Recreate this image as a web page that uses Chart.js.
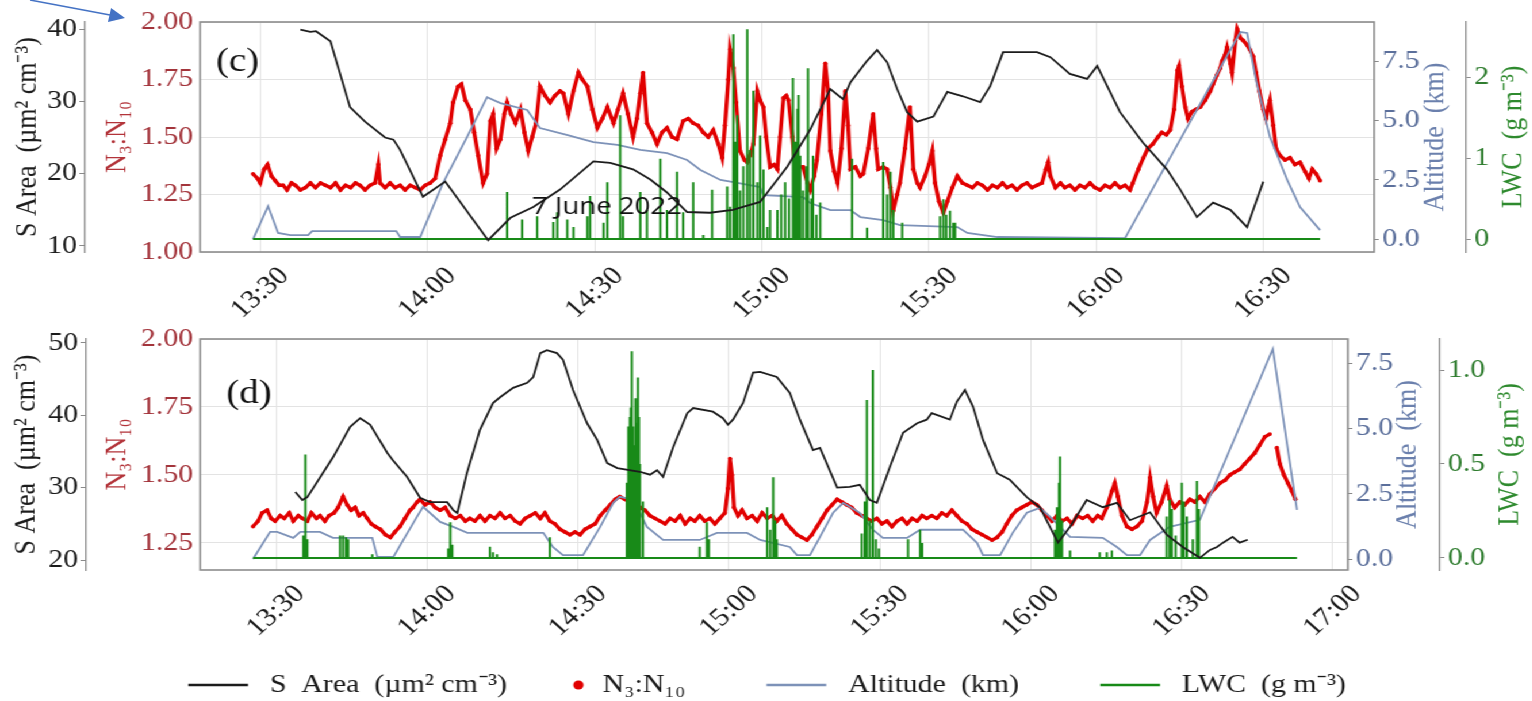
<!DOCTYPE html>
<html><head><meta charset="utf-8">
<script src="https://cdn.jsdelivr.net/npm/chart.js@4.4.1/dist/chart.umd.min.js"></script>
<style>
html,body{margin:0;padding:0;background:#fff;overflow:hidden;width:1532px;height:701px;}
#fig{position:absolute;left:0;top:0;width:1332px;height:708px;transform:scaleX(1.15);transform-origin:0 0;}
#cC{position:absolute;left:0;top:0;}
#cD{position:absolute;left:0;top:315px;}
#arrow{position:absolute;left:0;top:0;}
</style></head><body>
<div id="fig"><canvas id="cC" width="1332" height="330"></canvas><canvas id="cD" width="1332" height="393"></canvas></div>
<svg id="arrow" width="140" height="30"><line x1="30" y1="0" x2="110" y2="15" stroke="#4472c4" stroke-width="1.5"/><polygon points="125,18 108,22 111,8" fill="#4472c4"/></svg>
<script>
// ---------- DATA (time = minutes after midnight) ----------
const xTicksC = [810, 840, 870, 900, 930, 960, 990];
const xTicksD = [810, 840, 870, 900, 930, 960, 990, 1020];

const sAreaC = [[817.2,39.9],[819.0,39.6],[820.0,39.7],[822.6,38.3],[826.1,29.2],[828.8,27.2],[832.4,25.0],[833.9,24.7],[835.1,23.3],[839.2,16.8],[843.2,18.9],[850.9,10.8],[854.9,13.9],[859.0,15.4],[863.8,17.8],[869.8,21.7],[872.8,21.5],[876.9,20.6],[880.0,19.2],[883.0,17.4],[886.6,14.7],[890.7,14.6],[894.8,15.0],[899.7,16.1],[904.6,21.0],[908.7,26.1],[912.3,31.7],[914.6,30.3],[915.9,32.6],[918.9,35.6],[920.7,37.1],[922.5,35.4],[924.3,31.7],[926.1,28.5],[927.9,27.2],[930.8,27.9],[933.3,31.3],[936.1,30.7],[939.2,29.9],[941.0,32.1],[943.3,36.8],[949.4,36.8],[951.8,36.1],[955.3,33.8],[958.4,33.1],[960.2,34.9],[964.3,28.5],[968.4,24.3],[972.7,20.6],[975.1,17.8],[978.1,14.0],[981.0,16.0],[984.1,15.0],[987.1,12.6],[990.0,18.9]];

const n3C = [[808.7,1.34],[809.5,1.32],[810.0,1.30],[810.7,1.36],[811.3,1.38],[812.0,1.33],[812.7,1.31],[813.4,1.29],[814.1,1.29],[814.8,1.27],[815.6,1.30],[816.3,1.29],[817.2,1.27],[818.1,1.28],[819.0,1.30],[819.9,1.28],[820.8,1.30],[821.7,1.29],[822.6,1.28],[823.5,1.30],[824.4,1.27],[825.3,1.29],[826.2,1.28],[827.1,1.30],[827.9,1.29],[828.8,1.27],[829.7,1.29],[830.6,1.30],[831.2,1.38],[831.5,1.30],[832.4,1.28],[833.3,1.30],[834.2,1.28],[835.1,1.29],[836.0,1.27],[836.9,1.29],[837.8,1.28],[838.7,1.27],[839.6,1.29],[840.5,1.30],[841.4,1.32],[842.3,1.42],[843.2,1.49],[844.1,1.56],[844.6,1.65],[845.5,1.72],[846.1,1.73],[846.8,1.66],[847.7,1.62],[848.4,1.52],[849.1,1.42],[850.0,1.30],[850.7,1.34],[851.3,1.57],[851.8,1.60],[852.4,1.45],[853.1,1.49],[853.8,1.60],[854.3,1.65],[855.0,1.60],[855.8,1.56],[856.7,1.62],[857.4,1.52],[858.1,1.44],[858.8,1.50],[859.5,1.56],[860.2,1.72],[861.1,1.68],[862.0,1.65],[862.9,1.68],[863.8,1.70],[864.4,1.69],[865.3,1.60],[866.2,1.70],[867.1,1.78],[867.8,1.75],[868.7,1.72],[869.6,1.62],[870.5,1.54],[871.4,1.58],[872.3,1.63],[873.4,1.56],[874.2,1.62],[875.1,1.69],[876.0,1.60],[876.9,1.50],[877.6,1.58],[878.2,1.69],[878.7,1.78],[879.4,1.56],[880.3,1.52],[881.2,1.47],[882.1,1.52],[883.0,1.54],[883.9,1.50],[884.8,1.49],[885.9,1.57],[886.8,1.58],[887.7,1.56],[888.6,1.55],[889.5,1.52],[890.4,1.50],[891.3,1.53],[892.2,1.47],[892.9,1.41],[893.4,1.55],[894.0,1.75],[894.3,1.88],[894.9,1.80],[895.4,1.65],[896.1,1.44],[896.9,1.40],[897.4,1.39],[897.9,1.42],[898.5,1.47],[899.2,1.70],[899.7,1.66],[900.3,1.63],[900.8,1.50],[901.5,1.37],[902.2,1.38],[902.8,1.36],[903.3,1.50],[903.9,1.67],[904.4,1.68],[904.8,1.66],[905.5,1.50],[906.0,1.36],[906.7,1.37],[907.4,1.37],[908.2,1.30],[908.7,1.27],[909.4,1.33],[909.9,1.40],[910.7,1.60],[911.4,1.82],[911.9,1.70],[912.3,1.44],[913.0,1.35],[913.6,1.30],[914.3,1.45],[915.0,1.70],[915.5,1.55],[915.9,1.36],[916.8,1.37],[917.7,1.33],[918.2,1.34],[919.1,1.45],[920.0,1.60],[920.5,1.45],[920.9,1.36],[921.8,1.37],[922.5,1.36],[923.1,1.28],[923.6,1.18],[924.3,1.25],[924.8,1.30],[925.7,1.45],[926.6,1.63],[927.2,1.36],[927.9,1.30],[928.4,1.28],[929.3,1.33],[930.0,1.38],[930.6,1.44],[931.1,1.30],[931.8,1.22],[932.6,1.17],[933.3,1.22],[934.2,1.28],[935.1,1.33],[936.0,1.30],[936.9,1.29],[937.8,1.28],[938.7,1.30],[939.6,1.29],[940.5,1.27],[941.4,1.29],[942.3,1.28],[943.2,1.30],[944.0,1.28],[944.9,1.29],[945.8,1.27],[946.7,1.29],[947.6,1.30],[948.5,1.28],[949.4,1.29],[950.3,1.30],[951.0,1.36],[951.4,1.39],[951.8,1.33],[952.7,1.28],[953.6,1.30],[954.4,1.28],[955.3,1.29],[956.2,1.27],[957.1,1.29],[958.0,1.28],[958.9,1.30],[959.8,1.28],[960.7,1.27],[961.6,1.29],[962.5,1.28],[963.4,1.30],[964.3,1.28],[965.2,1.29],[966.1,1.27],[966.6,1.30],[967.6,1.36],[968.5,1.41],[969.3,1.45],[970.2,1.47],[971.1,1.50],[971.8,1.52],[972.6,1.51],[973.3,1.53],[974.0,1.62],[974.6,1.79],[974.9,1.81],[975.4,1.72],[976.0,1.63],[976.5,1.58],[977.2,1.61],[977.9,1.62],[978.7,1.63],[979.6,1.66],[980.5,1.70],[981.0,1.73],[981.7,1.77],[982.3,1.80],[982.6,1.83],[983.2,1.86],[983.5,1.89],[984.1,1.82],[984.4,1.78],[985.0,1.92],[985.3,1.97],[985.9,1.93],[986.4,1.92],[987.1,1.90],[987.6,1.88],[988.2,1.85],[988.7,1.78],[989.3,1.70],[990.0,1.62],[990.5,1.58],[990.9,1.63],[991.2,1.66],[991.8,1.55],[992.3,1.45],[993.0,1.42],[993.9,1.40],[994.8,1.41],[995.7,1.38],[996.6,1.39],[997.5,1.35],[998.2,1.32],[998.8,1.36],[999.5,1.34],[1000.2,1.31]];

const altC = [[808.7,0.0],[811.4,1.40],[813.2,0.27],[815.4,0.18],[818.6,0.18],[819.3,0.35],[834.4,0.35],[835.1,0.10],[838.7,0.10],[842.8,2.37],[847.1,4.30],[850.7,5.98],[853.1,5.73],[857.9,5.44],[860.2,4.68],[865.0,4.39],[869.8,4.09],[874.1,3.97],[878.2,3.76],[883.0,3.63],[886.6,3.34],[889.0,2.92],[892.6,2.50],[894.9,2.41],[899.7,2.20],[900.3,1.86],[907.4,1.78],[908.7,1.53],[912.3,1.23],[915.9,1.23],[917.7,0.94],[921.8,0.81],[924.8,0.60],[935.1,0.52],[936.9,0.27],[942.3,0.10],[965.2,0.05],[985.9,8.72],[987.1,8.68],[988.7,6.70],[991.2,4.30],[994.3,2.50],[996.6,1.36],[1000.2,0.39]];

const lwcSpanC = [808.7, 1000.2];
const lwcC = [[854.3,0.58],[857.0,0.24],[859.7,0.28],[862.6,0.21],[863.3,0.33],[865.1,0.24],[866.2,0.15],[868.7,0.28],[869.2,0.53],[871.6,0.20],[872.3,0.70],[874.6,1.53],[875.1,0.28],[878.2,0.58],[879.4,0.36],[881.8,0.99],[883.0,0.36],[884.8,0.83],[885.9,0.33],[887.7,0.70],[889.5,0.05],[891.1,0.61],[893.8,0.65],[894.3,0.40],[894.9,2.53],[895.2,1.20],[895.6,1.53],[896.1,0.60],[896.7,0.90],[897.4,2.59],[897.9,1.10],[898.5,1.83],[899.2,0.70],[899.7,1.28],[900.3,0.86],[901.0,0.15],[901.5,0.36],[902.8,0.36],[903.5,0.55],[904.2,0.70],[904.9,0.50],[905.6,1.99],[906.0,1.20],[906.4,1.61],[906.6,1.78],[906.9,1.03],[907.4,0.60],[908.0,0.90],[908.3,2.11],[908.9,0.50],[909.2,1.03],[909.8,0.30],[910.5,0.45],[916.2,0.99],[918.9,0.14],[921.8,0.95],[922.5,0.55],[923.1,0.83],[923.6,0.36],[925.2,0.20],[932.0,0.28],[932.6,0.49],[933.1,0.30],[933.8,0.35],[934.4,0.20],[934.7,0.20]];

const sAreaD = [[813.8,29.4],[815.2,28.3],[816.2,28.7],[821.3,34.2],[824.7,38.4],[826.7,39.6],[828.7,38.7],[832.1,34.8],[833.2,33.8],[836.0,31.5],[838.6,28.6],[840.6,28.0],[844.0,28.0],[845.2,26.9],[846.0,26.5],[847.9,32.0],[850.5,38.0],[853.1,41.7],[854.5,42.5],[857.1,43.8],[859.9,44.5],[861.1,45.3],[862.5,48.6],[863.8,49.0],[865.8,48.6],[867.0,47.7],[869.0,43.5],[871.8,38.9],[873.8,36.6],[875.8,33.4],[877.8,32.7],[882.3,32.2],[884.3,31.8],[885.7,32.4],[886.9,31.5],[888.9,35.6],[891.7,40.3],[892.9,41.0],[896.8,40.5],[898.8,39.6],[899.8,38.7],[900.8,39.4],[902.8,41.7],[904.8,45.9],[906.2,46.0],[909.5,45.3],[912.1,43.1],[914.1,39.4],[916.7,35.2],[918.1,35.5],[921.5,30.0],[924.0,30.1],[926.0,30.4],[928.0,28.3],[929.4,27.9],[932.0,32.9],[934.6,37.6],[937.4,38.9],[939.3,39.4],[940.3,40.3],[943.9,39.4],[945.3,41.9],[946.9,43.5],[948.5,41.2],[950.5,36.6],[953.3,32.0],[955.8,31.1],[959.2,28.7],[961.8,27.3],[965.4,22.4],[967.8,24.6],[971.1,28.3],[974.3,27.3],[977.1,27.9],[979.7,25.5],[983.7,26.6],[987.0,23.5],[990.2,21.8],[993.6,20.3],[995.6,21.4],[997.0,21.8],[998.2,22.4],[1000.1,23.2],[1001.5,22.4],[1003.1,22.8]];

const n3D = [[805.4,1.31],[806.4,1.33],[807.2,1.36],[808.2,1.37],[809.0,1.34],[809.8,1.33],[810.8,1.35],[811.6,1.34],[812.6,1.36],[813.4,1.33],[814.4,1.35],[815.2,1.34],[816.2,1.33],[817.0,1.36],[818.0,1.34],[818.7,1.35],[819.7,1.33],[820.5,1.35],[821.5,1.36],[822.3,1.38],[823.3,1.42],[824.1,1.39],[824.9,1.37],[825.7,1.38],[826.5,1.35],[827.3,1.36],[828.1,1.34],[828.9,1.32],[829.7,1.31],[830.7,1.30],[831.7,1.28],[832.7,1.27],[833.6,1.29],[834.6,1.31],[835.6,1.34],[836.6,1.37],[837.2,1.38],[838.0,1.40],[838.6,1.41],[839.6,1.39],[840.6,1.40],[841.6,1.38],[842.6,1.37],[843.6,1.38],[844.6,1.35],[845.6,1.34],[846.6,1.35],[847.6,1.33],[848.5,1.34],[849.5,1.33],[850.5,1.35],[851.5,1.33],[852.5,1.35],[853.5,1.34],[854.5,1.36],[855.5,1.34],[856.5,1.35],[857.5,1.33],[858.5,1.32],[859.5,1.34],[860.5,1.35],[861.5,1.36],[862.5,1.34],[863.4,1.36],[864.4,1.33],[865.4,1.32],[866.4,1.30],[867.4,1.29],[868.4,1.28],[869.4,1.29],[870.4,1.28],[871.4,1.30],[872.4,1.31],[873.4,1.32],[874.4,1.35],[875.4,1.37],[876.4,1.39],[877.4,1.41],[878.3,1.42],[879.3,1.41],[880.3,1.40],[881.3,1.41],[882.3,1.38],[883.3,1.37],[884.3,1.35],[885.3,1.34],[886.3,1.33],[887.3,1.32],[888.3,1.34],[889.3,1.33],[890.3,1.35],[891.3,1.32],[892.3,1.34],[893.2,1.33],[894.2,1.35],[895.2,1.33],[896.2,1.34],[897.2,1.32],[898.2,1.34],[899.2,1.36],[899.8,1.45],[900.2,1.56],[900.6,1.50],[901.0,1.38],[901.8,1.35],[902.6,1.37],[903.6,1.34],[904.6,1.35],[905.6,1.33],[906.6,1.36],[907.6,1.34],[908.6,1.35],[909.5,1.33],[910.5,1.35],[911.5,1.32],[912.5,1.30],[913.5,1.28],[914.5,1.27],[915.5,1.26],[916.5,1.28],[917.5,1.31],[918.5,1.34],[919.5,1.37],[920.5,1.39],[921.5,1.41],[922.5,1.40],[923.4,1.39],[924.4,1.38],[925.4,1.36],[926.4,1.35],[927.4,1.34],[928.4,1.33],[929.4,1.34],[930.4,1.32],[931.4,1.33],[932.4,1.31],[933.4,1.33],[934.4,1.34],[935.4,1.32],[936.4,1.34],[937.4,1.33],[938.4,1.35],[939.3,1.34],[940.3,1.35],[941.3,1.34],[942.3,1.36],[943.3,1.35],[944.3,1.37],[945.3,1.35],[946.3,1.33],[947.3,1.32],[948.3,1.30],[949.3,1.29],[950.3,1.28],[951.3,1.27],[952.3,1.26],[953.3,1.27],[954.3,1.29],[955.2,1.32],[956.2,1.35],[957.2,1.37],[958.2,1.38],[959.2,1.39],[960.2,1.40],[961.2,1.39],[962.2,1.37],[963.2,1.35],[964.2,1.33],[965.2,1.35],[966.2,1.33],[967.2,1.34],[968.2,1.32],[969.2,1.35],[970.3,1.34],[971.3,1.35],[972.3,1.33],[973.3,1.35],[974.1,1.34],[975.1,1.38],[976.1,1.44],[976.7,1.47],[977.3,1.42],[978.1,1.35],[979.1,1.31],[980.1,1.30],[981.1,1.31],[982.1,1.33],[983.1,1.40],[983.7,1.49],[984.3,1.42],[985.0,1.36],[986.0,1.40],[987.0,1.46],[987.6,1.41],[988.6,1.38],[989.6,1.40],[990.6,1.39],[991.6,1.41],[992.6,1.40],[993.6,1.42],[994.6,1.40],[995.6,1.43],[996.6,1.45],[997.6,1.47],[998.6,1.48],[999.6,1.50],[1000.5,1.51],[1001.5,1.52],[1002.5,1.54],[1003.5,1.56],[1004.5,1.58],[1005.5,1.61],[1006.5,1.64],[1007.5,1.65],[1008.1,null],[1008.9,1.60],[1009.5,1.54],[1010.3,1.50],[1011.1,1.47],[1011.9,1.44],[1012.6,1.41]];

const altD = [[805.4,0.0],[808.8,1.04],[810.2,1.04],[813.4,0.81],[814.8,1.04],[818.7,1.04],[821.3,0.81],[829.1,0.81],[830.1,0.08],[833.3,0.08],[838.0,1.62],[839.2,2.00],[842.6,1.42],[845.2,1.23],[848.0,1.00],[863.1,1.00],[865.0,0.46],[867.0,0.15],[871.0,0.15],[874.4,1.23],[877.0,2.15],[878.3,2.38],[881.0,2.27],[883.7,1.23],[886.9,0.73],[894.2,0.73],[897.6,1.00],[903.6,1.00],[906.2,0.73],[912.1,0.46],[913.5,0.15],[916.1,0.15],[918.1,0.85],[920.7,1.77],[922.7,2.15],[924.0,2.00],[926.0,1.77],[928.6,1.12],[930.6,0.81],[935.4,0.81],[938.0,1.12],[946.5,1.12],[949.3,0.62],[950.5,0.15],[953.9,0.15],[956.4,1.00],[959.2,1.77],[961.8,1.96],[963.8,1.62],[965.8,1.23],[967.8,0.85],[974.3,0.81],[977.1,0.46],[979.1,0.15],[981.7,0.15],[983.7,0.73],[987.6,1.23],[993.6,1.50],[1008.1,8.04],[1012.9,1.88]];

const lwcSpanD = [805.4, 1012.9];
const lwcD = [[815.4,0.12],[815.8,0.55],[816.2,0.10],[822.7,0.12],[823.3,0.12],[823.9,0.11],[824.3,0.10],[829.1,0.02],[844.2,0.05],[844.6,0.19],[845.0,0.07],[852.5,0.06],[853.1,0.03],[853.9,0.02],[864.4,0.11],[879.7,0.40],[880.0,0.70],[880.3,0.75],[880.5,0.80],[880.7,1.10],[880.9,0.70],[881.1,0.60],[881.3,0.78],[881.5,0.85],[881.7,0.72],[881.9,0.96],[882.1,0.75],[882.3,0.50],[882.9,0.30],[894.2,0.06],[895.6,0.19],[896.0,0.10],[907.6,0.27],[908.2,0.15],[908.8,0.43],[909.2,0.20],[909.5,0.10],[926.4,0.13],[927.0,0.30],[927.4,0.84],[928.0,0.20],[928.6,1.00],[929.2,0.10],[929.8,0.05],[935.6,0.10],[938.0,0.15],[938.4,0.08],[964.8,0.15],[965.2,0.27],[965.6,0.40],[965.8,0.54],[966.2,0.20],[967.8,0.04],[973.7,0.03],[975.1,0.03],[976.1,0.04],[987.0,0.22],[987.6,0.31],[988.0,0.26],[988.8,0.12],[990.0,0.40],[990.4,0.30],[991.0,0.22],[992.2,0.10],[993.0,0.41],[993.4,0.26]];

const seriesNames = ['S  Area  (\u00b5m\u00b2 cm\u207b\u00b3)', 'N\u2083:N\u2081\u2080', 'Altitude  (km)', 'LWC  (g m\u207b\u00b3)'];
const legendTrail = ['', '         ', '         ', ''];
const axisTitles = ['S Area  (\u00b5m\u00b2 cm\u207b\u00b3)', 'N\u2083:N\u2081\u2080', 'Altitude  (km)', 'LWC  (g m\u207b\u00b3)'];
const panelLabels = ['(c)', '(d)'];
const dateNote = '7 June 2022';

// ---------- STYLE / HELPERS ----------
const SERIF = "'Liberation Serif','Times New Roman',serif";
const COL = {sa:'#1c1c1c', n3:'#e10000', alt:'#7d92b8', lwc:'#188a18',
  saTick:'#1a1a1a', n3Tick:'#a3343b', altTick:'#5b6f9b', lwcTick:'#2f7d2f',
  n3Title:'#b3343a', altTitle:'#6b80ad', lwcTitle:'#2e8a2e', grid:'#e3e3e3', axis:'#8a8a8a'};
const fmtTime = v => Math.floor(v/60) + ':' + String(Math.round(v % 60)).padStart(2,'0');
const xy = a => a.map(p => ({x:p[0], y:p[1]}));
function spikeSeries(span, sp){
  const d=[{x:span[0],y:0}];
  sp.forEach(([t,v]) => { d.push({x:t,y:0},{x:t,y:v},{x:t,y:0}); });
  d.push({x:span[1],y:0});
  return d;
}
const tickFont = {family:SERIF, size:26};

function makeDatasets(sa, n3, alt, lwc){
  return [
    {label:seriesNames[0], data:xy(sa), yAxisID:'ySA', borderColor:COL.sa, backgroundColor:COL.sa, borderWidth:1.8, pointRadius:0, order:0},
    {label:seriesNames[1], data:xy(n3), yAxisID:'yN', borderColor:COL.n3, backgroundColor:COL.n3, borderWidth:3.4, pointRadius:1.9, pointBorderWidth:0, order:3},
    {label:seriesNames[2], data:xy(alt), yAxisID:'yAlt', borderColor:COL.alt, backgroundColor:COL.alt, borderWidth:1.8, pointRadius:0, order:2},
    {label:seriesNames[3], data:lwc, yAxisID:'yL', borderColor:COL.lwc, backgroundColor:COL.lwc, borderWidth:2, pointRadius:0, order:1}
  ];
}

function makeScales(p){
  const yfit = w => (s => { s.width = w; s.paddingTop = 0; s.paddingBottom = 0; });
  return {
    x:{type:'linear', min:p.xmin, max:p.xmax,
       afterBuildTicks: s => { s.ticks = p.xt.map(v => ({value:v})); },
       ticks:{callback:fmtTime, minRotation:45, maxRotation:45, autoSkip:false,
              color:COL.saTick, font:tickFont, labelOffset:21, padding:9},
       grid:{color:COL.grid, drawTicks:false}, border:{display:false},
       afterFit: s => { s.height = p.xh; s.paddingLeft = 0; s.paddingRight = 0; }},
    ySA:{position:'left', weight:1, min:p.sa[0], max:p.sa[1],
       ticks:{stepSize:10, includeBounds:false, color:COL.saTick, font:tickFont, padding:2},
       grid:{drawOnChartArea:false, tickLength:5, color:COL.axis}, border:{display:true, color:COL.axis, width:1.3},
       afterFit: yfit(p.w[0])},
    yN:{position:'left', weight:0, min:p.n3[0], max:p.n3[1],
       ticks:{stepSize:0.25, includeBounds:false, callback:v => v.toFixed(2), color:COL.n3Tick, font:tickFont, padding:6},
       grid:{color:COL.grid, drawTicks:false}, border:{display:false},
       afterFit: yfit(p.w[1])},
    yAlt:{position:'right', weight:0, min:p.alt[0], max:p.alt[1],
       ticks:{stepSize:2.5, includeBounds:false, callback:v => v.toFixed(1), color:COL.altTick, font:tickFont, padding:3},
       grid:{drawOnChartArea:false, tickLength:4, color:COL.axis}, border:{display:false},
       afterFit: yfit(p.w[2])},
    yL:{position:'right', weight:1, min:p.lwc[0], max:p.lwc[1],
       ticks:{stepSize:p.lwcStep, includeBounds:false, callback:p.lwcFmt, color:COL.lwcTick, font:tickFont, padding:3},
       grid:{drawOnChartArea:false, tickLength:4, color:COL.axis}, border:{display:true, color:COL.axis, width:1.3},
       afterFit: yfit(p.w[3])}
  };
}

function decor(id, cfg){
  return { id, afterDraw(chart){
    const {ctx, chartArea:a} = chart;
    ctx.save();
    ctx.strokeStyle = '#8c8c8c'; ctx.lineWidth = 1.6;
    ctx.strokeRect(a.left, a.top, a.right - a.left, a.bottom - a.top);
    const cy = (a.top + a.bottom) / 2;
    cfg.titles.forEach(t => {
      ctx.save(); ctx.translate(t.x, cy); ctx.rotate(-Math.PI/2);
      ctx.font = '26px ' + SERIF; ctx.fillStyle = t.color; ctx.textAlign = 'center'; ctx.textBaseline = 'middle';
      ctx.fillText(t.text, 0, 0); ctx.restore();
    });
    cfg.texts.forEach(t => {
      ctx.font = t.font; ctx.fillStyle = '#111'; ctx.textAlign = 'center'; ctx.textBaseline = 'middle';
      ctx.fillText(t.text, t.x, t.y);
    });
    ctx.restore();
  }};
}

const baseOpts = {responsive:false, animation:false, events:[], devicePixelRatio:1};

// ---------- PANEL (c) ----------
new Chart(document.getElementById('cC'), {
  type:'line',
  data:{datasets: makeDatasets(sAreaC, n3C, altC, spikeSeries(lwcSpanC, lwcC))},
  options:Object.assign({}, baseOpts, {
    layout:{padding:{top:22, left:0, right:0, bottom:0}},
    plugins:{legend:{display:false}, tooltip:{enabled:false}},
    scales: makeScales({xmin:799.2, xmax:1009.9, xt:xTicksC, xh:78, sa:[9.17,40.97], n3:[1.0,2.0], alt:[-0.53,9.14],
      lwc:[-0.16,2.68], lwcStep:1, lwcFmt:v => String(v), w:[74,100,80,57.1]})
  }),
  plugins:[decor('decorC', {
    titles:[{text:axisTitles[0], x:24.3, color:COL.sa},{text:axisTitles[1], x:102.6, color:COL.n3Title},
            {text:axisTitles[2], x:1247.8, color:COL.altTitle},{text:axisTitles[3], x:1315.7, color:COL.lwcTitle}],
    texts:[{text:panelLabels[0], x:206.5, y:62, font:'34px ' + SERIF},
           {text:dateNote, x:527.8, y:207, font:"24px 'Open Sans','Noto Sans',sans-serif"}]
  })]
});

// ---------- PANEL (d) ----------
function legendIcon(kind, color){
  const c = document.createElement('canvas');
  c.width = 60; c.height = 14;
  const g = c.getContext('2d');
  if (kind === 'dot') { g.fillStyle = color; g.beginPath(); g.arc(52, 7, 4.5, 0, 2*Math.PI); g.fill(); }
  else { g.strokeStyle = color; g.lineWidth = 2.6; g.beginPath(); g.moveTo(2, 7); g.lineTo(54, 7); g.stroke(); }
  return c;
}

new Chart(document.getElementById('cD'), {
  type:'line',
  data:{datasets: makeDatasets(sAreaD, n3D, altD, spikeSeries(lwcSpanD, lwcD))},
  options:Object.assign({}, baseOpts, {
    layout:{padding:{top:24, left:0, right:0, bottom:0}},
    plugins:{tooltip:{enabled:false},
      legend:{display:true, position:'bottom',
        labels:{usePointStyle:true, pointStyleWidth:60, padding:10, color:'#1a1a1a', font:{family:SERIF, size:26},
          generateLabels: chart => chart.data.datasets.map((ds, i) => ({
            text: ds.label + legendTrail[i], fillStyle: ds.borderColor, strokeStyle: ds.borderColor, lineWidth: 0,
            pointStyle: legendIcon(i === 1 ? 'dot' : 'line', ds.borderColor), hidden:false, datasetIndex:i, fontColor:'#1a1a1a'}))}}},
    scales: makeScales({xmin:794.9, xmax:1023.0, xt:xTicksD, xh:92, sa:[18.62,50.55], n3:[1.15,2.0], alt:[-0.42,8.42],
      lwc:[-0.064,1.165], lwcStep:0.5, lwcFmt:v => v.toFixed(1), w:[75,99.1,80,80]})
  }),
  plugins:[decor('decorD', {
    titles:[{text:axisTitles[0], x:23.5, color:COL.sa},{text:axisTitles[1], x:102.6, color:COL.n3Title},
            {text:axisTitles[2], x:1224.3, color:COL.altTitle},{text:axisTitles[3], x:1313, color:COL.lwcTitle}],
    texts:[{text:panelLabels[1], x:216.5, y:79, font:'34px ' + SERIF}]
  })]
});
</script>
</body></html>
